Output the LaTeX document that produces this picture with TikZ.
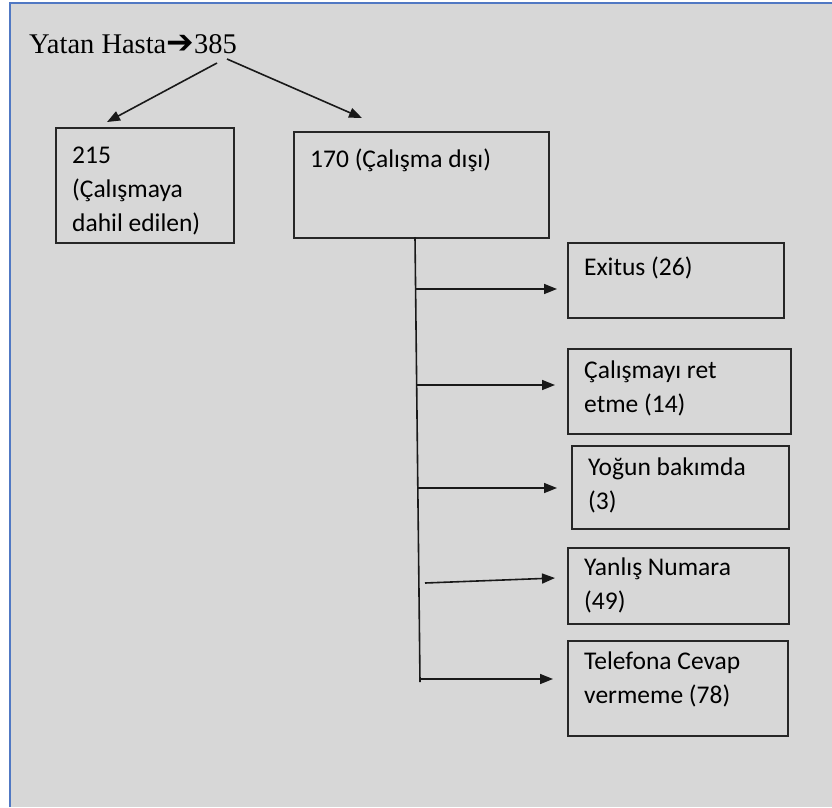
\documentclass[tikz,border=0pt]{standalone}
\usepackage{fontspec}
\setmainfont{Carlito}
\newfontfamily\tnr{Liberation Serif}
\newfontfamily\dvs{DejaVu Sans}
\usetikzlibrary{arrows.meta}
\definecolor{bggray}{RGB}{215,215,215}
\definecolor{frameblue}{RGB}{80,120,195}
\begin{document}
\begin{tikzpicture}[x=1pt,y=-1pt,
  box/.style={draw=black!85, line width=1.6pt, anchor=north west, inner sep=0pt},
  lbl/.style={anchor=north west, inner sep=0pt, xshift=17pt, yshift=#1, align=left,
    font=\fontsize{25.5}{34}\selectfont, execute at begin node={\rule{0pt}{20pt}}},
  lbl/.default=-13pt,
  arr/.style={draw=black!90, line width=1.6pt, -{Triangle[length=13pt,width=10pt]}},
  ln/.style={draw=black!90, line width=1.6pt}]
\useasboundingbox (0,0) rectangle (832,807);
\fill[bggray] (10,3) rectangle (832,807);
\draw[frameblue, line width=2pt] (10,807) -- (10,3) -- (832,3);

\node[anchor=base west, inner sep=0pt, font=\fontsize{28.5}{28.5}\selectfont] (title) at (29,53)
  {{\tnr Yatan Hasta}{\fontsize{33}{33}\selectfont\dvs\bfseries ➔}{\tnr 385}};

\node[box, minimum width=178pt, minimum height=115pt,
  label={[lbl=-20pt]north west:215\\(Çalışmaya\\dahil edilen)}] (b215) at (55,127) {};
\node[box, minimum width=255pt, minimum height=106pt,
  label={[lbl=-16pt]north west:170 (Çalışma dışı)}] (b170) at (293,131) {};
\node[box, minimum width=216pt, minimum height=75pt,
  label={[lbl]north west:Exitus (26)}] (exitus) at (567,242) {};
\node[box, minimum width=223pt, minimum height=85pt,
  label={[lbl]north west:Çalışmayı ret\\etme (14)}] (ret) at (567,348) {};
\node[box, minimum width=217pt, minimum height=83pt,
  label={[lbl]north west:Yoğun bakımda\\(3)}] (yogun) at (571,445) {};
\node[box, minimum width=221pt, minimum height=76pt,
  label={[lbl=-11pt]north west:Yanlış Numara\\(49)}] (yanlis) at (567,547) {};
\node[box, minimum width=220pt, minimum height=95pt,
  label={[lbl=-12pt]north west:Telefona Cevap\\vermeme (78)}] (tel) at (567,640) {};

% top arrows
\coordinate (t1) at (217,63);
\coordinate (t2) at (227,59);
\coordinate (h1) at (107,122);
\coordinate (h2) at (362,118);
\draw[arr] (t1) -- (h1);
\draw[arr] (t2) -- (h2);

% trunk
\coordinate (vt) at (415,237);
\coordinate (vb) at (420,682);
\draw[ln] (vt) -- (vb);

\coordinate (s1) at (415,289);
\coordinate (s2) at (417,385);
\coordinate (s3) at (417,488);
\coordinate (s4) at (425,583);
\coordinate (e4) at (555,578);
\coordinate (s5) at (420,679);
\draw[arr, shorten >=10pt] (s1) -- (s1 -| exitus.west);
\draw[arr, shorten >=12pt] (s2) -- (s2 -| ret.west);
\draw[arr, shorten >=14pt] (s3) -- (s3 -| yogun.west);
\draw[arr] (s4) -- (e4);
\draw[arr, shorten >=14pt] (s5) -- (s5 -| tel.west);
\end{tikzpicture}
\end{document}
